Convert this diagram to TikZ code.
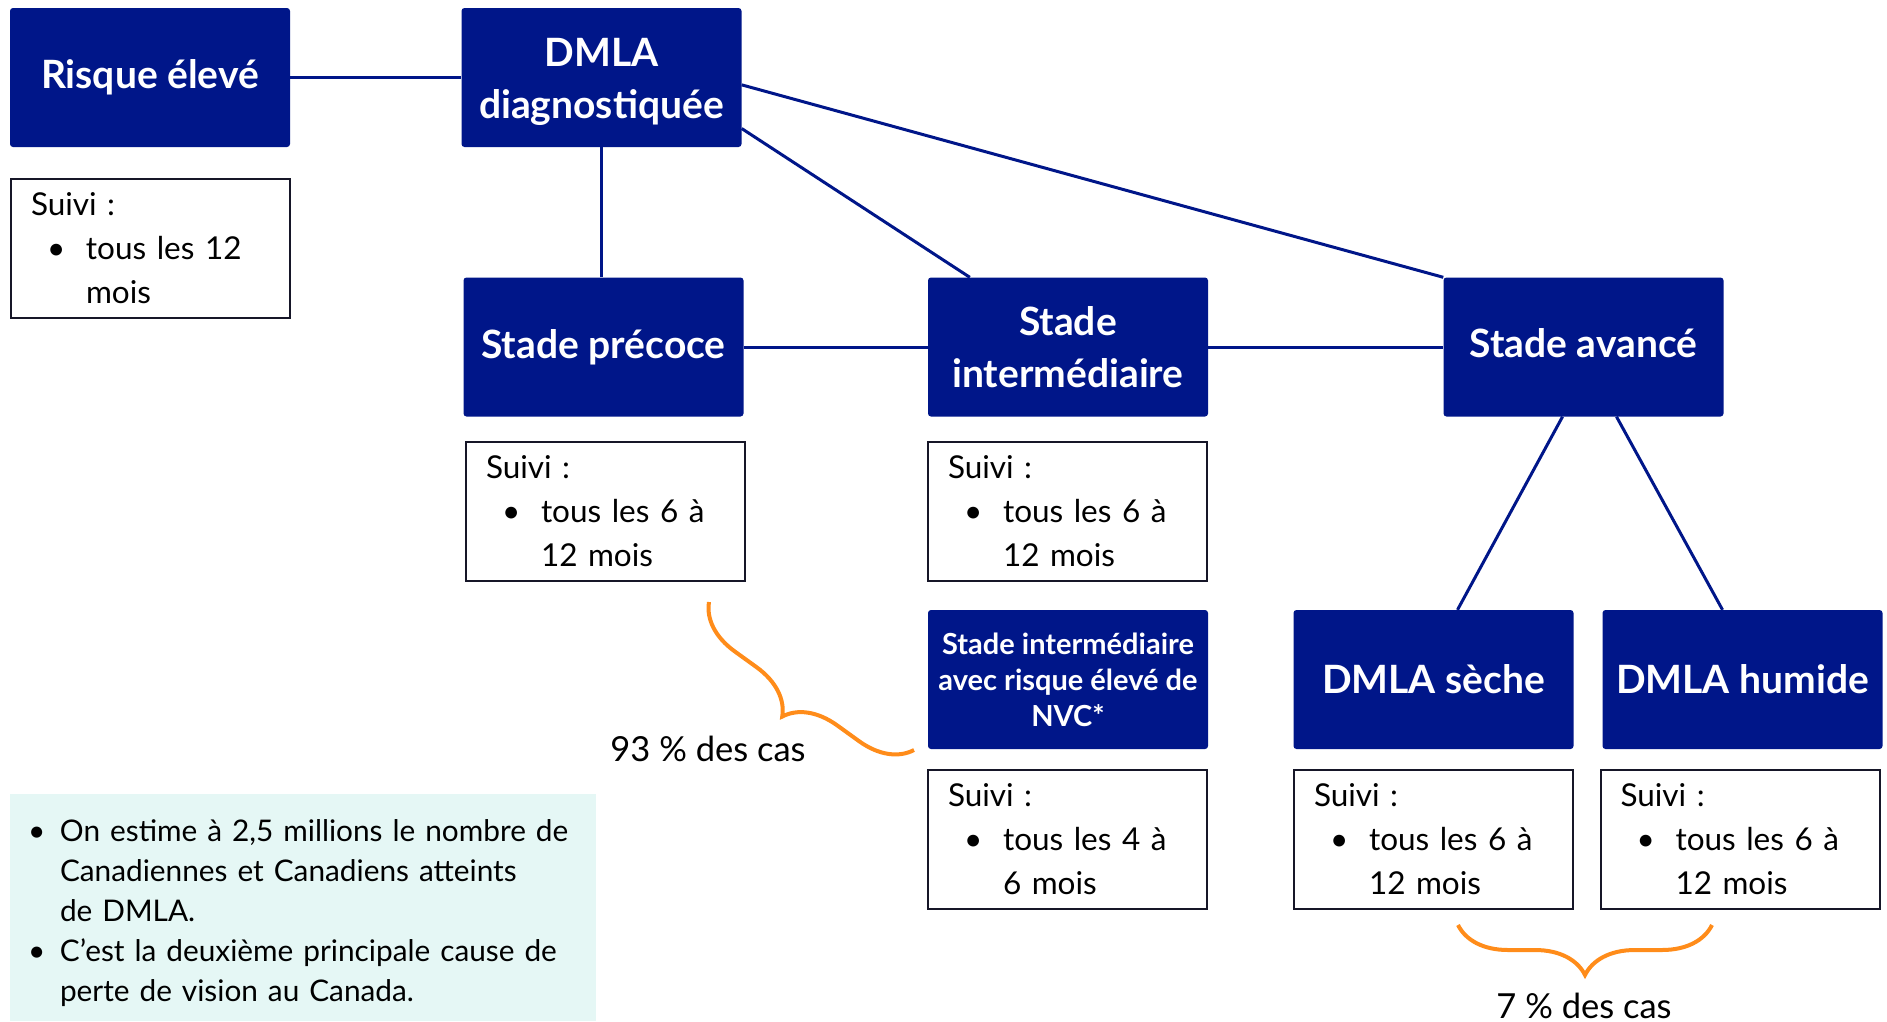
\documentclass[tikz,border=0pt]{standalone}
\usepackage{fontspec}
\setmainfont{Lato}
\usepackage{tikz}
\usetikzlibrary{decorations.pathreplacing}
\definecolor{dmlanavy}{RGB}{0,22,137}
\definecolor{suiviline}{RGB}{22,22,40}
\definecolor{caseorange}{RGB}{255,140,26}
\definecolor{factsfill}{RGB}{229,247,245}
\tikzset{stage/.style={rectangle, fill=dmlanavy, rounded corners=3pt,
    text=white, align=center, inner sep=0pt,
    minimum width=280pt, minimum height=139pt,
    font=\bfseries\fontsize{39}{52}\selectfont}}
\tikzset{suivi/.style={rectangle, draw=suiviline, line width=2pt,
    align=left, inner xsep=20pt, inner ysep=0pt, text width=239pt,
    minimum height=139pt, font=\fontsize{31.5}{44}\selectfont}}
\tikzset{link/.style={draw=dmlanavy, line width=3pt}}
\tikzset{cases/.style={decorate, decoration={brace, mirror, amplitude=50pt},
    draw=caseorange, line width=4pt}}
\tikzset{casetext/.style={font=\fontsize{34.5}{40}\selectfont}}
\newcommand{\suivitext}[2]{Suivi :\\
  \hspace*{16pt}\makebox[39pt][l]{\textbullet}#1\\
  \hspace*{55pt}#2}
\newcommand{\factbullet}{\makebox[32pt][l]{\textbullet}}

\begin{document}
\begin{tikzpicture}[x=1pt, y=-1pt]
    \useasboundingbox (0, 0) rectangle (1887, 1021);

    \node[stage] (risk) at (150, 77.5) {Risque élevé};
    \node[stage] (diag) at (601.5, 77.5) {\rule{0pt}{38pt}DMLA\\diagnostiquée};
    \node[stage] (early) at (603.5, 347) {Stade précoce};
    \node[stage] (inter) at (1068, 347) {Stade\\intermédiaire};
    \node[stage] (adv) at (1583.5, 347) {Stade avancé\rule[-8pt]{0pt}{0pt}};
    \node[stage, font=\bfseries\fontsize{29}{36}\selectfont] (nvc) at (1068, 679.5)
        {Stade intermédiaire\\avec risque élevé de\\NVC*};
    \node[stage] (dry) at (1433.5, 679.5) {DMLA sèche};
    \node[stage] (wet) at (1742.5, 679.5) {DMLA humide};

    \node[suivi] (suivirisk) at (150.5, 248.5) {\suivitext{tous les 12}{mois}};
    \node[suivi] (suiviearly) at (605.5, 511) {\suivitext{tous les 6 à}{12 mois}};
    \node[suivi] (suiviinter) at (1067.5, 511) {\suivitext{tous les 6 à}{12 mois}};
    \node[suivi] (suivinvc) at (1067.5, 839.5) {\suivitext{tous les 4 à}{6 mois}};
    \node[suivi] (suividry) at (1433.5, 839.5) {\suivitext{tous les 6 à}{12 mois}};
    \node[suivi] (suiviwet) at (1740, 839.5) {\suivitext{tous les 6 à}{12 mois}};

    \node[rectangle, fill=factsfill, align=left, inner xsep=18pt, inner ysep=0pt,
    text width=550pt, minimum height=227pt,
    font=\fontsize{29.8}{40}\selectfont] (facts) at (303, 907.5)
        {\rule{0pt}{34pt}\factbullet On estime à 2,5 millions le nombre de\\
         \hspace*{32pt}Canadiennes et Canadiens atteints\\
         \hspace*{32pt}de DMLA.\\
         \factbullet C’est la deuxième principale cause de\\
         \hspace*{32pt}perte de vision au Canada.};

    \draw [link] (risk.east) -- (risk.east -| diag.west);
    \draw [link] (diag.south) -- (diag.south |- early.north);
    \draw [link] (diag.-3) -- (adv.north west);
    \draw [link] (diag.-20) -- ([xshift=42pt]inter.north west);
    \draw [link] (early.east) -- (inter.west);
    \draw [link] (inter.east) -- (adv.west);
    \draw [link] ([xshift=-21pt]adv.south) -- ([xshift=24pt]dry.north);
    \draw [link] ([xshift=33pt]adv.south) -- ([xshift=-20pt]wet.north);

    % orange braces grouping the cases
    \coordinate (early top) at (709, 602);
    \coordinate (early end) at (914, 750);
    \coordinate (late top) at (1458, 925);
    \coordinate (late end) at (1712, 925);
    \draw [cases] (early top) -- (early end);
    \draw [cases] (late top) -- (late end);
    \node [casetext] (earlycases) at (708, 749) {93 \% des cas};
    \node [casetext] (latecases) at (1584, 1006) {7 \% des cas};
\end{tikzpicture}
\end{document}
